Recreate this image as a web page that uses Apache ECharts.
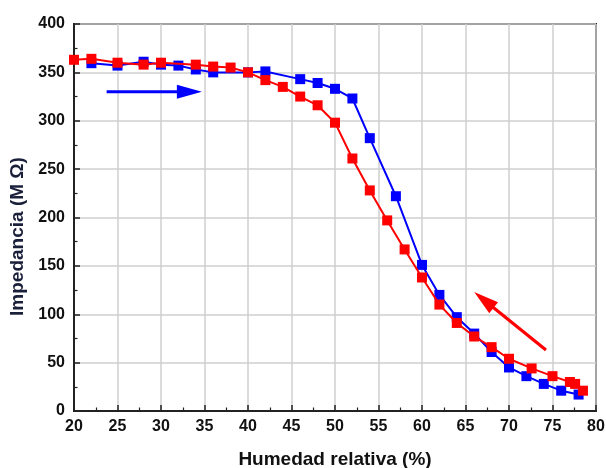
<!DOCTYPE html>
<html>
<head>
<meta charset="utf-8">
<script src="https://cdn.jsdelivr.net/npm/echarts@6/dist/echarts.min.js"></script>
<style>
  html, body { margin: 0; padding: 0; background: #fff; }
  #chart { width: 606px; height: 468px; }
</style>
</head>
<body>
<div id="chart"></div>
<script>
// humidity rising (blue) and falling (red)
const blueX = [22, 25, 28, 30, 32, 34, 36, 40, 42, 46, 48, 50, 52, 54, 57, 60, 62, 64, 66, 68, 70, 72, 74, 76, 78]
const blueY = [359.5, 357, 361, 358, 357, 353, 350, 350, 351, 343, 339, 333, 323, 282, 222, 151, 120, 97, 80, 61, 45, 36, 28, 21, 17]
const redX = [20, 22, 25, 28, 30, 34, 36, 38, 40, 42, 44, 46, 48, 50, 52, 54, 56, 58, 60, 62, 64, 66, 68, 70, 72.6, 75, 77, 77.6, 78.5]
const redY = [363, 364, 360, 358, 360, 358, 356, 355, 350, 342, 335, 325, 316, 298, 261, 228, 197, 167, 138, 110, 91, 77, 66, 54, 44, 36, 30, 28, 21]

// arrow annotations, in data coordinates [start, tip]
const blueArrow = [[23.75, 330], [34.7, 330]]
const redArrow = [[74.25, 63], [66, 123]]

const font = 'Liberation Sans, Arial, sans-serif'
const zip = (xs, ys) => xs.map((x, i) => [x, ys[i]])

const chart = echarts.init(document.getElementById('chart'))

chart.setOption({
  animation: false,
  grid: {
    left: 74,
    right: 10,
    top: 24,
    bottom: 57,
    outerBoundsMode: 'none',
    show: true,
    borderColor: '#222',
    borderWidth: 2,
  },
  xAxis: {
    type: 'value',
    min: 20,
    max: 80,
    interval: 5,
    name: 'Humedad relativa (%)',
    nameLocation: 'middle',
    nameGap: 39,
    nameTextStyle: { fontFamily: font, fontSize: 19, fontWeight: 'bold', color: '#111' },
    axisLine: { lineStyle: { color: '#222', width: 2 } },
    axisTick: { inside: true, length: 6, lineStyle: { color: '#222', width: 1.5 } },
    minorTick: { show: true, splitNumber: 2, length: 3.5, lineStyle: { color: '#222', width: 1.2 } },
    axisLabel: { fontFamily: font, fontSize: 16, fontWeight: 'bold', color: '#111', margin: 8 },
    splitLine: { lineStyle: { color: '#cfcfcf', width: 1.5 } },
  },
  yAxis: {
    type: 'value',
    min: 0,
    max: 400,
    interval: 50,
    name: 'Impedancia (M Ω)',
    nameLocation: 'middle',
    nameGap: 46,
    nameTextStyle: {
      fontFamily: font, fontSize: 19, fontWeight: 'bold', color: '#1a1f3a',
      padding: [0, 38, 0, 0],
    },
    axisLine: { lineStyle: { color: '#222', width: 2 } },
    axisTick: { inside: true, length: 6, lineStyle: { color: '#222', width: 1.5 } },
    minorTick: { show: true, splitNumber: 2, length: 3.5, lineStyle: { color: '#222', width: 1.2 } },
    axisLabel: { fontFamily: font, fontSize: 16, fontWeight: 'bold', color: '#111', margin: 9 },
    splitLine: { lineStyle: { color: '#cfcfcf', width: 1.5 } },
  },
  series: [
    {
      name: 'subida',
      type: 'line',
      data: zip(blueX, blueY),
      symbol: 'rect',
      symbolSize: 10,
      itemStyle: { color: '#0000ff' },
      lineStyle: { color: '#0000ff', width: 2 },
      z: 2,
    },
    {
      name: 'bajada',
      type: 'line',
      data: zip(redX, redY),
      symbol: 'rect',
      symbolSize: 10,
      itemStyle: { color: '#ff0000' },
      lineStyle: { color: '#ff0000', width: 2 },
      z: 3,
    },
  ],
})

function arrow(pts, color) {
  const a = chart.convertToPixel({ gridIndex: 0 }, pts[0])
  const b = chart.convertToPixel({ gridIndex: 0 }, pts[1])
  const dx = b[0] - a[0]
  const dy = b[1] - a[1]
  const len = Math.sqrt(dx * dx + dy * dy)
  const ux = dx / len
  const uy = dy / len
  const head = 25
  const half = 7
  const bx = b[0] - ux * head
  const by = b[1] - uy * head
  return [
    {
      type: 'line',
      shape: { x1: a[0], y1: a[1], x2: bx + ux * 4, y2: by + uy * 4 },
      style: { stroke: color, lineWidth: 3.2 },
      z: 10,
    },
    {
      type: 'polygon',
      shape: { points: [b, [bx - uy * half, by + ux * half], [bx + uy * half, by - ux * half]] },
      style: { fill: color },
      z: 10,
    },
  ]
}

chart.setOption({
  graphic: [...arrow(blueArrow, '#0000ff'), ...arrow(redArrow, '#ff0000')],
})
</script>
</body>
</html>
